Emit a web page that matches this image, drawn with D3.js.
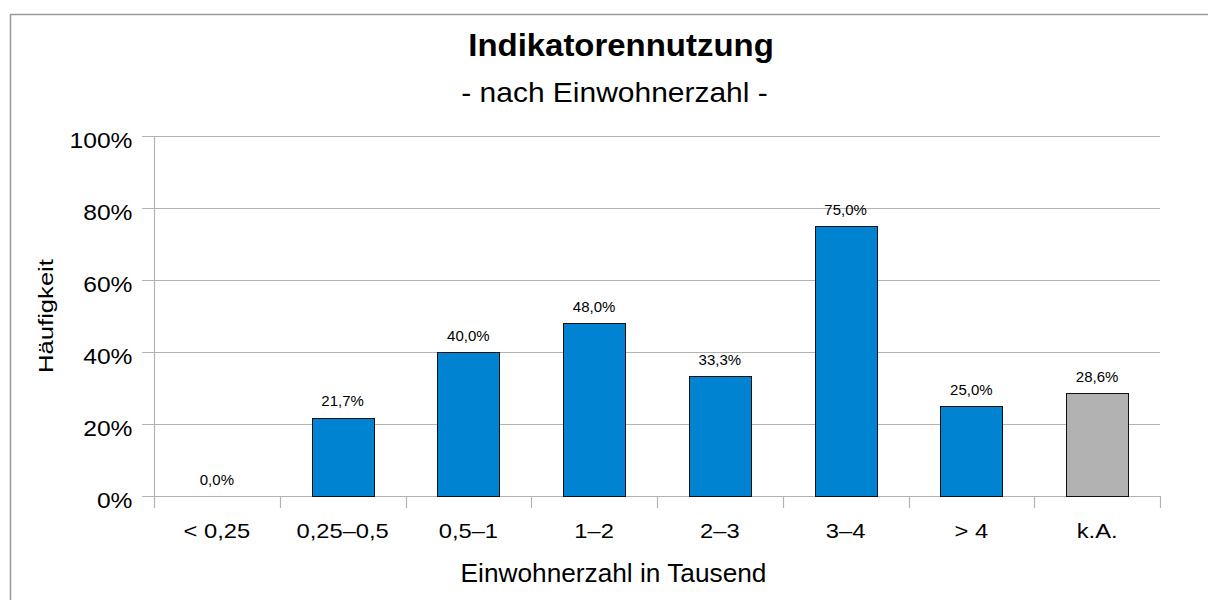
<!DOCTYPE html>
<html>
<head>
<meta charset="utf-8">
<script src="https://cdn.jsdelivr.net/npm/d3@7"></script>
<style>
  html, body { margin: 0; padding: 0; background: #fff; }
  svg { display: block; font-family: "Liberation Sans", Arial, sans-serif; }
</style>
</head>
<body>
<svg id="chart" width="1208" height="600"></svg>
<script>
// Share of municipalities using indicators, grouped by population (thousands)
const categories = ["< 0,25", "0,25–0,5", "0,5–1", "1–2", "2–3", "3–4", "> 4", "k.A."];
const values = [0.0, 21.7, 40.0, 48.0, 33.3, 75.0, 25.0, 28.6];
const yTickValues = [0, 20, 40, 60, 80, 100];
const noAnswerCategory = "k.A.";

const titleText = "Indikatorennutzung";
const subtitleText = "- nach Einwohnerzahl -";
const xTitleText = "Einwohnerzahl in Tausend";
const yTitleText = "Häufigkeit";

const de = d3.formatLocale({ decimal: ",", thousands: ".", grouping: [3], currency: ["", " €"] });
const fmtValue = v => de.format(".1f")(v) + "%";
const fmtTick = v => de.format("d")(v) + "%";

const svg = d3.select("#chart");
const plot = { left: 154, right: 1160, top: 136, bottom: 496 };
const tickLen = 12;
const gridColor = "#b3b3b3";

// outer frame of the chart
svg.append("rect")
  .attr("x", 10.5).attr("y", 14.5)
  .attr("width", 1220).attr("height", 620)
  .attr("fill", "#fff")
  .attr("stroke", "#9a9a9a").attr("stroke-width", 1.5);

// text helper with horizontal glyph stretch
function label(x, y, text, opts) {
  const o = Object.assign({ size: 20, sx: 1, anchor: "middle", weight: "normal", rotate: 0 }, opts);
  return svg.append("text")
    .attr("transform", `translate(${x},${y}) rotate(${o.rotate}) scale(${o.sx},1)`)
    .attr("text-anchor", o.anchor)
    .attr("font-size", o.size)
    .attr("font-weight", o.weight)
    .attr("fill", "#000")
    .text(text);
}

const x = d3.scaleBand().domain(categories).range([plot.left, plot.right]).padding(0);
const y = d3.scaleLinear().domain([0, 100]).range([plot.bottom, plot.top]);

// horizontal grid lines (extend left as tick marks)
svg.append("g").selectAll("line").data(yTickValues).join("line")
  .attr("x1", plot.left - tickLen).attr("x2", plot.right)
  .attr("y1", d => Math.round(y(d)) + 0.5).attr("y2", d => Math.round(y(d)) + 0.5)
  .attr("stroke", gridColor).attr("stroke-width", 1.2);

// y axis with tick labels
const yAxis = svg.append("g")
  .attr("transform", `translate(${plot.left + 0.5},0.5)`)
  .call(d3.axisLeft(y).tickValues(yTickValues).tickSize(tickLen).tickFormat(fmtTick));
yAxis.select(".domain").remove();
yAxis.selectAll(".tick line").remove();
yAxis.selectAll(".tick text")
  .attr("x", null).attr("dy", null)
  .attr("transform", "translate(-22,11) scale(1.12,1)")
  .attr("font-family", "Liberation Sans, Arial, sans-serif")
  .attr("font-size", 22).attr("fill", "#000");

// vertical axis line
svg.append("line")
  .attr("x1", plot.left + 0.5).attr("x2", plot.left + 0.5)
  .attr("y1", plot.top).attr("y2", plot.bottom + tickLen)
  .attr("stroke", gridColor).attr("stroke-width", 1.2);

// category boundary ticks
const boundaries = categories.map(c => x(c)).concat([x(categories[categories.length - 1]) + x.bandwidth()]);
svg.append("g").selectAll("line").data(boundaries.slice(1)).join("line")
  .attr("x1", d => Math.round(d) + 0.5).attr("x2", d => Math.round(d) + 0.5)
  .attr("y1", plot.bottom).attr("y2", plot.bottom + tickLen)
  .attr("stroke", gridColor).attr("stroke-width", 1.2);

// category labels
categories.forEach(c => label(x(c) + x.bandwidth() / 2, 538, c, { size: 21, sx: 1.13 }));

// bars
const barW = x.bandwidth() * 0.495;
const data = categories.map((c, i) => ({ c, v: values[i] }));
svg.append("g").selectAll("rect").data(data.filter(d => d.v > 0)).join("rect")
  .attr("x", d => Math.round(x(d.c) + x.bandwidth() / 2 - barW / 2) + 0.5)
  .attr("y", d => Math.round(y(d.v)) + 0.5)
  .attr("width", Math.round(barW))
  .attr("height", d => Math.round(y(0)) - Math.round(y(d.v)))
  .attr("fill", d => d.c === noAnswerCategory ? "#b2b2b2" : "#0084d1")
  .attr("stroke", "#111").attr("stroke-width", 1);

// value labels above bars
data.forEach(d => label(x(d.c) + x.bandwidth() / 2, y(d.v) - 11.5, fmtValue(d.v), { size: 15 }));

// titles
label(621, 56, titleText, { size: 30.5, sx: 1.08, weight: "bold" });
label(614.5, 102, subtitleText, { size: 27, sx: 1.11 });
label(613.5, 582, xTitleText, { size: 25, sx: 1.05 });
label(53, 316, yTitleText, { size: 21, sx: 1.22, rotate: -90 });
</script>
</body>
</html>
